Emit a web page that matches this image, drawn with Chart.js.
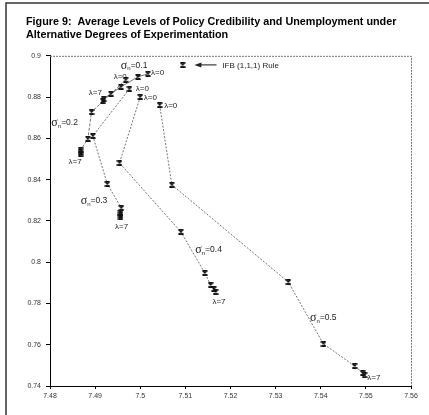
<!DOCTYPE html>
<html>
<head>
<meta charset="utf-8">
<script src="https://cdn.jsdelivr.net/npm/chart.js@4"></script>
<style>
  html, body { margin: 0; padding: 0; background: #fff; }
  #wrap { width: 429px; height: 415px; position: relative; }
</style>
</head>
<body>
<div id="wrap"><canvas id="c" width="429" height="415"></canvas></div>
<script>
// Average unemployment (x) and policy credibility (y) for lambda = 0 ... 7
const sigma01X = [7.5017, 7.4995, 7.4957, 7.4935, 7.4919, 7.4917];
const sigma01Y = [0.8913, 0.8898, 0.8850, 0.8816, 0.8792, 0.8782];
const sigma02X = [7.4968, 7.4892, 7.4884, 7.4868, 7.4868, 7.4868];
const sigma02Y = [0.8884, 0.8728, 0.8598, 0.8544, 0.8535, 0.8525];
const sigma03X = [7.4976, 7.4895, 7.4927, 7.4958, 7.4956, 7.4956, 7.4956];
const sigma03Y = [0.8840, 0.8612, 0.8379, 0.8263, 0.8239, 0.8229, 0.8219];
const sigma04X = [7.5000, 7.4954, 7.5090, 7.5143, 7.5156, 7.5163, 7.5167];
const sigma04Y = [0.8801, 0.8481, 0.8147, 0.7948, 0.7890, 0.7870, 0.7856];
const sigma05X = [7.5043, 7.5070, 7.5328, 7.5406, 7.5475, 7.5493, 7.5497];
const sigma05Y = [0.8762, 0.8375, 0.7904, 0.7604, 0.7497, 0.7463, 0.7453];
const ifbX = [7.5094];
const ifbY = [0.8956];

const xTicks = [7.48, 7.49, 7.5, 7.51, 7.52, 7.53, 7.54, 7.55, 7.56];
const yTicks = [0.74, 0.76, 0.78, 0.8, 0.82, 0.84, 0.86, 0.88, 0.9];

const titleLines = [
  'Figure 9:  Average Levels of Policy Credibility and Unemployment under',
  'Alternative Degrees of Experimentation'
];

// Text notes placed at data coordinates: sigma labels, lambda labels, IFB rule
const sigmaNotes = [
  { v: '0.1', x: 7.4957, y: 0.8952 },
  { v: '0.2', x: 7.4803, y: 0.8675 },
  { v: '0.3', x: 7.4868, y: 0.8297 },
  { v: '0.4', x: 7.5122, y: 0.8059 },
  { v: '0.5', x: 7.5376, y: 0.7730 }
];
const lambdaNotes = [
  { t: 'λ=0', x: 7.5024, y: 0.8918 },
  { t: 'λ=0', x: 7.4941, y: 0.8898 },
  { t: 'λ=7', x: 7.4886, y: 0.8821 },
  { t: 'λ=0', x: 7.4990, y: 0.8840 },
  { t: 'λ=0', x: 7.5008, y: 0.8796 },
  { t: 'λ=0', x: 7.5053, y: 0.8758 },
  { t: 'λ=7', x: 7.4841, y: 0.8486 },
  { t: 'λ=7', x: 7.4944, y: 0.8171 },
  { t: 'λ=7', x: 7.5160, y: 0.7807 },
  { t: 'λ=7', x: 7.5503, y: 0.7439 }
];
const ifbNote = { t: 'IFB (1,1,1) Rule', x: 7.5182, y: 0.8952 };
const ifbArrow = { x1: 7.5169, x2: 7.5120, y: 0.8956 };

// Small hourglass-like cross marker
function makeMarker() {
  const s = 6, c = document.createElement('canvas');
  c.width = s; c.height = s;
  const g = c.getContext('2d');
  g.strokeStyle = '#111'; g.lineWidth = 1.4;
  g.beginPath();
  g.moveTo(0.5, 0.5); g.lineTo(5.5, 5.5);
  g.moveTo(5.5, 0.5); g.lineTo(0.5, 5.5);
  g.moveTo(0.5, 0.8); g.lineTo(5.5, 0.8);
  g.moveTo(0.5, 5.2); g.lineTo(5.5, 5.2);
  g.stroke();
  return c;
}
const marker = makeMarker();

function toPoints(xs, ys) { return xs.map((x, i) => ({ x: x, y: ys[i] })); }

function series(label, xs, ys, dash) {
  return {
    label: label,
    data: toPoints(xs, ys),
    showLine: true,
    borderColor: '#666',
    borderWidth: 0.9,
    borderDash: dash,
    pointStyle: marker,
    pointRadius: 3,
    pointHoverRadius: 3,
    tension: 0
  };
}

const notesPlugin = {
  id: 'notes',
  beforeDraw(chart) {
    const ctx = chart.ctx;
    ctx.save();
    ctx.fillStyle = '#fff';
    ctx.fillRect(0, 0, chart.width, chart.height);
    // page frame
    ctx.strokeStyle = '#333';
    ctx.lineWidth = 1.5;
    ctx.beginPath();
    ctx.moveTo(6, 415); ctx.lineTo(6, 3); ctx.lineTo(429, 3);
    ctx.stroke();
    ctx.restore();
  },
  afterDatasetsDraw(chart) {
    const ctx = chart.ctx, xs = chart.scales.x, ys = chart.scales.y;
    const a = chart.chartArea;
    ctx.save();
    // dotted top and right edges of the plot box
    ctx.strokeStyle = '#777';
    ctx.lineWidth = 1;
    ctx.setLineDash([2, 1]);
    ctx.beginPath();
    ctx.moveTo(a.left, a.top + 0.5); ctx.lineTo(a.right + 0.5, a.top + 0.5);
    ctx.lineTo(a.right + 0.5, a.bottom);
    ctx.stroke();
    ctx.setLineDash([]);

    ctx.fillStyle = '#222';
    ctx.textBaseline = 'middle';
    ctx.textAlign = 'left';
    // lambda labels
    ctx.font = '8px "Liberation Sans", Arial, sans-serif';
    lambdaNotes.forEach(n => {
      ctx.fillText(n.t, xs.getPixelForValue(n.x), ys.getPixelForValue(n.y));
    });
    // sigma labels
    sigmaNotes.forEach(n => {
      let px = xs.getPixelForValue(n.x), py = ys.getPixelForValue(n.y);
      ctx.font = '12px "Liberation Serif", "Times New Roman", serif';
      ctx.fillText('σ', px, py);
      px += ctx.measureText('σ').width;
      ctx.font = '6px "Liberation Sans", Arial, sans-serif';
      ctx.fillText('n', px, py + 3);
      px += ctx.measureText('n').width;
      ctx.font = '8.5px "Liberation Sans", Arial, sans-serif';
      ctx.fillText('=' + n.v, px, py);
    });
    // IFB rule label and arrow
    ctx.font = '8px "Liberation Sans", Arial, sans-serif';
    ctx.fillText(ifbNote.t, xs.getPixelForValue(ifbNote.x), ys.getPixelForValue(ifbNote.y));
    const ax1 = xs.getPixelForValue(ifbArrow.x1), ax2 = xs.getPixelForValue(ifbArrow.x2);
    const ay = ys.getPixelForValue(ifbArrow.y);
    ctx.strokeStyle = '#111';
    ctx.lineWidth = 1;
    ctx.beginPath();
    ctx.moveTo(ax1, ay); ctx.lineTo(ax2 + 4, ay);
    ctx.stroke();
    ctx.beginPath();
    ctx.moveTo(ax2, ay); ctx.lineTo(ax2 + 7, ay - 2.5); ctx.lineTo(ax2 + 7, ay + 2.5);
    ctx.closePath();
    ctx.fill();
    ctx.restore();
  }
};

new Chart(document.getElementById('c'), {
  type: 'scatter',
  data: {
    datasets: [
      series('σn=0.1', sigma01X, sigma01Y, []),
      series('σn=0.2', sigma02X, sigma02Y, [3, 1.5]),
      series('σn=0.3', sigma03X, sigma03Y, [2, 1.5]),
      series('σn=0.4', sigma04X, sigma04Y, [2, 1.5]),
      series('σn=0.5', sigma05X, sigma05Y, [2, 1.5]),
      {
        label: 'IFB (1,1,1) Rule',
        data: toPoints(ifbX, ifbY),
        showLine: false,
        pointStyle: marker,
        pointRadius: 3
      }
    ]
  },
  options: {
    responsive: false,
    animation: false,
    events: [],
    layout: { padding: { left: 26, right: 18, top: 0, bottom: 0 } },
    plugins: {
      legend: { display: false },
      tooltip: { enabled: false },
      title: {
        display: true,
        text: titleLines,
        align: 'start',
        color: '#000',
        font: { family: '"Liberation Sans", Arial, sans-serif', size: 10.8, weight: 'bold', lineHeight: 1.15 },
        padding: { top: 16, bottom: 15 }
      }
    },
    scales: {
      x: {
        type: 'linear',
        min: 7.48, max: 7.56,
        afterBuildTicks: s => { s.ticks = xTicks.map(v => ({ value: v })); },
        afterFit: s => { s.height = 29; },
        ticks: { color: '#333', font: { family: '"Liberation Sans", Arial, sans-serif', size: 7 }, padding: 3, maxRotation: 0, callback: v => String(v) },
        grid: { drawOnChartArea: false, drawTicks: true, tickLength: 3, color: '#000' },
        border: { color: '#000', width: 1 }
      },
      y: {
        type: 'linear',
        min: 0.74, max: 0.9,
        afterBuildTicks: s => { s.ticks = yTicks.map(v => ({ value: v })); },
        afterFit: s => { s.width = 24; },
        ticks: { color: '#333', font: { family: '"Liberation Sans", Arial, sans-serif', size: 7 }, padding: 5, callback: v => String(v) },
        grid: { drawOnChartArea: false, drawTicks: true, tickLength: 4, color: '#000' },
        border: { color: '#000', width: 1 }
      }
    }
  },
  plugins: [notesPlugin]
});
</script>
</body>
</html>
